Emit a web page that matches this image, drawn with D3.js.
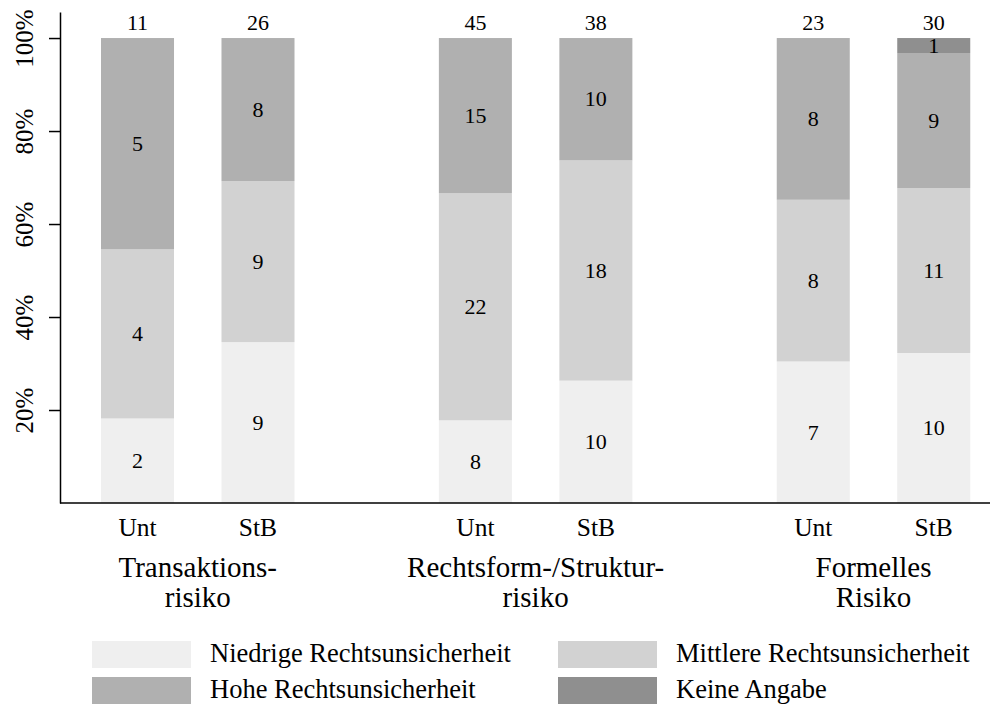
<!DOCTYPE html>
<html>
  <head>
    <meta charset="utf-8" />
    <style>
      body { margin: 0; background: #fff; }
      text { font-family: "Liberation Serif", "Times New Roman", serif; fill: #000; }
      .axis path, .axis line { stroke: #000; stroke-width: 1.5px; }
    </style>
  </head>
  <body>
    <svg width="999" height="704"></svg>
    <script src="https://d3js.org/d3.v7.min.js"></script>
    <script>
      // data
      var groups = ["Transaktions", "Rechtsform", "Formell"];
      var groupLabels = [["Transaktions-", "risiko"], ["Rechtsform-/Struktur-", "risiko"], ["Formelles", "Risiko"]];
      var respondents = ["Unt", "StB"];
      var levels = ["Niedrige Rechtsunsicherheit", "Mittlere Rechtsunsicherheit", "Hohe Rechtsunsicherheit", "Keine Angabe"];
      var colors = ["#efefef", "#d2d2d2", "#b0b0b0", "#8f8f8f"];
      // one entry per bar: Transaktions Unt, StB, Rechtsform Unt, StB, Formell Unt, StB
      var low = [2, 9, 8, 10, 7, 10];
      var mid = [4, 9, 22, 18, 8, 11];
      var high = [5, 8, 15, 10, 8, 9];
      var none = [0, 0, 0, 0, 0, 1];
      var totals = [11, 26, 45, 38, 23, 30];
      var yTicks = [0.2, 0.4, 0.6, 0.8, 1.0];

      var rows = low.map(function (d, i) {
        return {
          group: groups[Math.floor(i / 2)],
          resp: respondents[i % 2],
          total: totals[i],
          k0: low[i], k1: mid[i], k2: high[i], k3: none[i]
        };
      });

      var svg = d3.select("svg");

      var x0 = d3.scalePoint().domain(groups).range([197.75, 873.5]);
      var x1 = d3.scaleBand().domain(respondents).range([-96.75, 96.75]).paddingInner(0.394).paddingOuter(0);
      var y = d3.scaleLinear().domain([0, 1.056]).range([503, 12]);

      var stack = d3.stack().keys(["k0", "k1", "k2", "k3"]).offset(d3.stackOffsetExpand);
      var series = stack(rows);

      function barX(d) { return x0(d.group) + x1(d.resp); }

      var layer = svg.append("g").selectAll("g")
        .data(series)
        .enter().append("g")
        .attr("fill", function (s, i) { return colors[i]; });

      layer.selectAll("rect")
        .data(function (s) { return s; })
        .enter().append("rect")
        .attr("x", function (d) { return barX(d.data); })
        .attr("width", x1.bandwidth())
        .attr("y", function (d) { return y(d[1]); })
        .attr("height", function (d) { return y(d[0]) - y(d[1]); });

      // counts inside segments
      series.forEach(function (s) {
        svg.append("g").selectAll("text")
          .data(s.filter(function (d) { return d.data[s.key] > 0; }))
          .enter().append("text")
          .attr("x", function (d) { return barX(d.data) + x1.bandwidth() / 2; })
          .attr("y", function (d) { return (y(d[0]) + y(d[1])) / 2; })
          .attr("dy", "0.33em")
          .attr("text-anchor", "middle")
          .style("font-size", "22px")
          .text(function (d) { return d.data[s.key]; });
      });

      // totals above bars
      svg.append("g").selectAll("text")
        .data(rows)
        .enter().append("text")
        .attr("x", function (d) { return barX(d) + x1.bandwidth() / 2; })
        .attr("y", 30)
        .attr("text-anchor", "middle")
        .style("font-size", "22px")
        .text(function (d) { return d.total; });

      // y axis
      var yAxis = svg.append("g")
        .attr("class", "axis")
        .attr("transform", "translate(60,0)")
        .call(d3.axisLeft(y).tickValues(yTicks).tickSize(11).tickSizeOuter(0).tickFormat(d3.format(".0%")));
      yAxis.selectAll("text")
        .attr("x", null).attr("dy", null)
        .attr("transform", "translate(-27,0) rotate(-90)")
        .attr("text-anchor", "middle")
        .style("font-family", "'Liberation Serif', serif")
        .style("font-size", "25px");

      // x baseline
      svg.append("line")
        .attr("x1", 60).attr("x2", 990)
        .attr("y1", y(0)).attr("y2", y(0))
        .attr("stroke", "#000").attr("stroke-width", 1.5);

      // respondent labels
      svg.append("g").selectAll("text")
        .data(rows)
        .enter().append("text")
        .attr("x", function (d) { return barX(d) + x1.bandwidth() / 2; })
        .attr("y", 536)
        .attr("text-anchor", "middle")
        .style("font-size", "25.5px")
        .text(function (d) { return d.resp; });

      // group labels
      var gl = svg.append("g").selectAll("text")
        .data(groups)
        .enter().append("text")
        .attr("text-anchor", "middle")
        .style("font-size", "29px");
      gl.selectAll("tspan")
        .data(function (g, i) { return groupLabels[i].map(function (t) { return { g: g, t: t }; }); })
        .enter().append("tspan")
        .attr("x", function (d) { return x0(d.g); })
        .attr("y", function (d, j) { return 577 + j * 30; })
        .text(function (d) { return d.t; });

      // legend
      var legend = svg.append("g").selectAll("g")
        .data(levels)
        .enter().append("g")
        .attr("transform", function (d, i) {
          return "translate(" + (i % 2 ? 558 : 92) + "," + (641 + Math.floor(i / 2) * 36) + ")";
        });
      legend.append("rect")
        .attr("width", 99).attr("height", 27)
        .attr("fill", function (d, i) { return colors[i]; });
      legend.append("text")
        .attr("x", 118).attr("y", 21)
        .style("font-size", "26.5px")
        .text(function (d) { return d; });
    </script>
  </body>
</html>
